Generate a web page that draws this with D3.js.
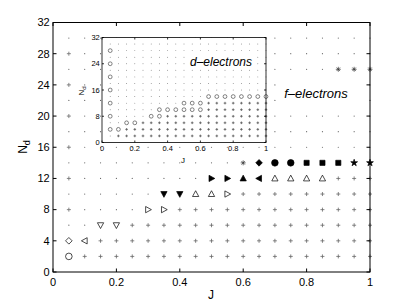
<!DOCTYPE html>
<html><head><meta charset="utf-8">
<script src="https://cdn.jsdelivr.net/npm/d3@7"></script>
<style>body{margin:0;background:#fff} svg{display:block} text{font-family:"Liberation Sans",Arial,sans-serif}</style>
</head><body><svg id="c" width="409" height="307"></svg>
<script>
// ---------- data ----------
const J = d3.range(1, 21).map(i => +(i * 0.05).toFixed(2));
const yTicksMain = [0, 4, 8, 12, 16, 20, 24, 28, 32];
const xTicks = [0, 0.2, 0.4, 0.6, 0.8, 1];
const xTickLabels = ["0", "0.2", "0.4", "0.6", "0.8", "1"];
// f-electrons (main): highest "+" row for each J column
const fPlusTop = [0, 2, 4, 4, 6, 6, 6, 8, 8, 8, 8, 10, 10, 10, 10, 10, 10, 12, 12, 12];
// f-electrons: extra "+" marks in first column
const fFirstColPlus = [8, 12, 16, 20, 24, 28];
// f-electrons: special markers
const fMarkJ = [0.05, 0.05, 0.1, 0.15, 0.2, 0.3, 0.35, 0.35, 0.4, 0.45, 0.5, 0.55, 0.5, 0.55, 0.6, 0.65, 0.7, 0.75, 0.8, 0.85, 0.6, 0.65, 0.7, 0.75, 0.8, 0.85, 0.9, 0.95, 1.0, 0.9, 0.95, 1.0];
const fMarkN = [2, 4, 4, 6, 6, 8, 8, 10, 10, 10, 10, 10, 12, 12, 12, 12, 12, 12, 12, 12, 14, 14, 14, 14, 14, 14, 14, 14, 14, 26, 26, 26];
const fMarkShape = ["circle", "diamond", "triL", "triD", "triD", "triR", "triR", "triDf", "triDf", "triU", "triU", "triR", "triRf", "triRf", "triUf", "triLf", "triU", "triU", "triU", "triU", "aster", "diamondF", "circleF", "circleF", "squareF", "squareF", "squareF", "starF", "starF", "aster", "aster", "aster"];
// d-electrons (inset)
const yTicksInset = [0, 8, 16, 24, 32];
const dPlusTop = [0, 2, 4, 4, 6, 6, 6, 8, 8, 8, 8, 8, 10, 10, 10, 10, 10, 10, 10, 10];
const dCircJ = [0.05, 0.05, 0.05, 0.05, 0.05, 0.05, 0.05, 0.1, 0.15, 0.2, 0.3, 0.35, 0.35, 0.4, 0.45, 0.5, 0.55, 0.6, 0.5, 0.55, 0.6, 0.65, 0.7, 0.75, 0.8, 0.85, 0.9, 0.95, 1.0];
const dCircN = [4, 8, 12, 16, 20, 24, 28, 4, 6, 6, 8, 8, 10, 10, 10, 10, 10, 10, 12, 12, 12, 14, 14, 14, 14, 14, 14, 14, 14];
const dPlusTopFix = [0, 2, 4, 4, 6, 6, 6, 8, 8, 8, 8, 8, 12, 12, 12, 12, 12, 12, 12, 12];

// ---------- helpers ----------
const svg = d3.select("#c");
function shapePath(t, s) {
  const tri = (a) => {
    const pts = [[0, -s], [s * 0.95, s * 0.75], [-s * 0.95, s * 0.75]].map(([x, y]) => {
      const c = Math.cos(a), si = Math.sin(a);
      return [x * c - y * si, x * si + y * c];
    });
    return "M" + pts.map(p => p[0].toFixed(2) + "," + p[1].toFixed(2)).join("L") + "Z";
  };
  switch (t) {
    case "circle": case "circleF": return d3.symbol(d3.symbolCircle, Math.PI * s * s)();
    case "diamond": case "diamondF": return `M0,${-s}L${s},0L0,${s}L${-s},0Z`;
    case "squareF": return `M${-s * 0.8},${-s * 0.8}h${1.6 * s}v${1.6 * s}h${-1.6 * s}Z`;
    case "triU": case "triUf": return tri(0);
    case "triD": case "triDf": return tri(Math.PI);
    case "triR": case "triRf": return tri(Math.PI / 2);
    case "triL": case "triLf": return tri(-Math.PI / 2);
    case "plus": return `M${-s},0H${s}M0,${-s}V${s}`;
    case "aster": { const d = s * 0.7; return `M${-s},0H${s}M0,${-s}V${s}M${-d},${-d}L${d},${d}M${-d},${d}L${d},${-d}`; }
    case "starF": return d3.symbol(d3.symbolStar, s * s * 1.1)();
  }
}
const filled = t => /F$|f$/.test(t);

function gridMarks(g, x, y, plusTop, skipCol, plusSize, dotR, col) {
  J.forEach((j, i) => {
    for (let n = 2; n <= 30; n += 2) {
      if (skipCol(j, n)) continue;
      if (n <= plusTop[i]) {
        g.append("path").attr("transform", `translate(${x(j)},${y(n)})`)
          .attr("d", shapePath("plus", plusSize)).attr("stroke", col).attr("stroke-width", 0.8).attr("fill", "none");
      } else {
        g.append("circle").attr("cx", x(j)).attr("cy", y(n)).attr("r", dotR).attr("fill", col);
      }
    }
  });
}

function drawAxes(g, x, y, xt, xtl, yt, fs, tickLen, lw, xlabGap) {
  const [x0, x1] = x.range(), [y0, y1] = y.range();
  g.append("rect").attr("x", x0).attr("y", y1).attr("width", x1 - x0).attr("height", y0 - y1)
    .attr("fill", "none").attr("stroke", "#000").attr("stroke-width", lw);
  xt.forEach((t, i) => {
    g.append("line").attr("x1", x(t)).attr("x2", x(t)).attr("y1", y0).attr("y2", y0 - tickLen).attr("stroke", "#000").attr("stroke-width", lw);
    g.append("line").attr("x1", x(t)).attr("x2", x(t)).attr("y1", y1).attr("y2", y1 + tickLen).attr("stroke", "#000").attr("stroke-width", lw);
    g.append("text").attr("x", x(t)).attr("y", y0 + xlabGap).attr("text-anchor", "middle").attr("font-size", fs).text(xtl[i]);
  });
  yt.forEach(t => {
    g.append("line").attr("x1", x0).attr("x2", x0 + tickLen).attr("y1", y(t)).attr("y2", y(t)).attr("stroke", "#000").attr("stroke-width", lw);
    g.append("line").attr("x1", x1).attr("x2", x1 - tickLen).attr("y1", y(t)).attr("y2", y(t)).attr("stroke", "#000").attr("stroke-width", lw);
    g.append("text").attr("x", x0 - fs * 0.3).attr("y", y(t)).attr("dy", "0.35em").attr("text-anchor", "end").attr("font-size", fs).text(t);
  });
}

// ---------- main axes ----------
const x = d3.scaleLinear().domain([0, 1]).range([53, 370]);
const y = d3.scaleLinear().domain([0, 32]).range([272, 22.5]);
const gm = svg.append("g");
const fMarkSet = new Set(fMarkJ.map((j, i) => j + "_" + fMarkN[i]));
gridMarks(gm, x, y, fPlusTop,
  (j, n) => fMarkSet.has(j + "_" + n) || (j === 0.05 && fFirstColPlus.includes(n)), 2, 0.6, "#666");
fFirstColPlus.forEach(n => gm.append("path").attr("transform", `translate(${x(0.05)},${y(n)})`)
  .attr("d", shapePath("plus", 2)).attr("stroke", "#777").attr("stroke-width", 0.9).attr("fill", "none"));
fMarkJ.forEach((j, i) => {
  const t = fMarkShape[i];
  const s = t === "aster" ? 2.5 : t === "starF" ? 3.6 : t === "squareF" ? 3.2 : 3.3;
  gm.append("path").attr("transform", `translate(${x(j)},${y(fMarkN[i])})`)
    .attr("d", shapePath(t, s)).attr("fill", filled(t) ? "#000" : "none")
    .attr("stroke", t === "aster" ? "#333" : "#000").attr("stroke-width", 0.7);
});
drawAxes(gm, x, y, xTicks, xTickLabels, yTicksMain, 11, 3.5, 1, 14);
svg.append("text").attr("x", 211).attr("y", 299).attr("text-anchor", "middle").attr("font-size", 12).text("J");
svg.append("text").attr("transform", "translate(27,147) rotate(-90)").attr("text-anchor", "middle").attr("font-size", 12)
  .append("tspan").text("N").append("tspan").attr("dy", 3).attr("font-size", 9).text("d");

// f-electrons label
svg.append("rect").attr("x", 278).attr("y", 83).attr("width", 77).attr("height", 20).attr("fill", "#fff");
svg.append("text").attr("x", 316).attr("y", 97.5).attr("text-anchor", "middle").attr("font-size", 13).attr("font-style", "italic").text("f\u2013electrons");

// ---------- inset ----------
const xi = d3.scaleLinear().domain([0, 1]).range([102, 266]);
const yi = d3.scaleLinear().domain([0, 32]).range([142.5, 37.5]);
const gi = svg.append("g");
gi.append("rect").attr("x", 102).attr("y", 37.5).attr("width", 164).attr("height", 105).attr("fill", "#fff");
const dSet = new Set(dCircJ.map((j, i) => j + "_" + dCircN[i]));
gridMarks(gi, xi, yi, dPlusTopFix, (j, n) => dSet.has(j + "_" + n), 1.3, 0.45, "#555");
dCircJ.forEach((j, i) => gi.append("circle").attr("cx", xi(j)).attr("cy", yi(dCircN[i])).attr("r", 1.9)
  .attr("fill", "none").attr("stroke", "#333").attr("stroke-width", 0.6));
gi.append("rect").attr("x", 188).attr("y", 54).attr("width", 67).attr("height", 15).attr("fill", "#fff");
gi.append("text").attr("x", 221).attr("y", 66).attr("text-anchor", "middle").attr("font-size", 12).attr("font-style", "italic").text("d\u2013electrons");
drawAxes(gi, xi, yi, xTicks, xTickLabels, yTicksInset, 7.5, 2, 0.8, 8);
svg.append("text").attr("x", 183).attr("y", 163).attr("text-anchor", "middle").attr("font-size", 8).text("J");
svg.append("text").attr("transform", "translate(84,91) rotate(-90)").attr("text-anchor", "middle").attr("font-size", 8)
  .append("tspan").text("N").append("tspan").attr("dy", 2).attr("font-size", 6).text("d");
</script></body></html>
